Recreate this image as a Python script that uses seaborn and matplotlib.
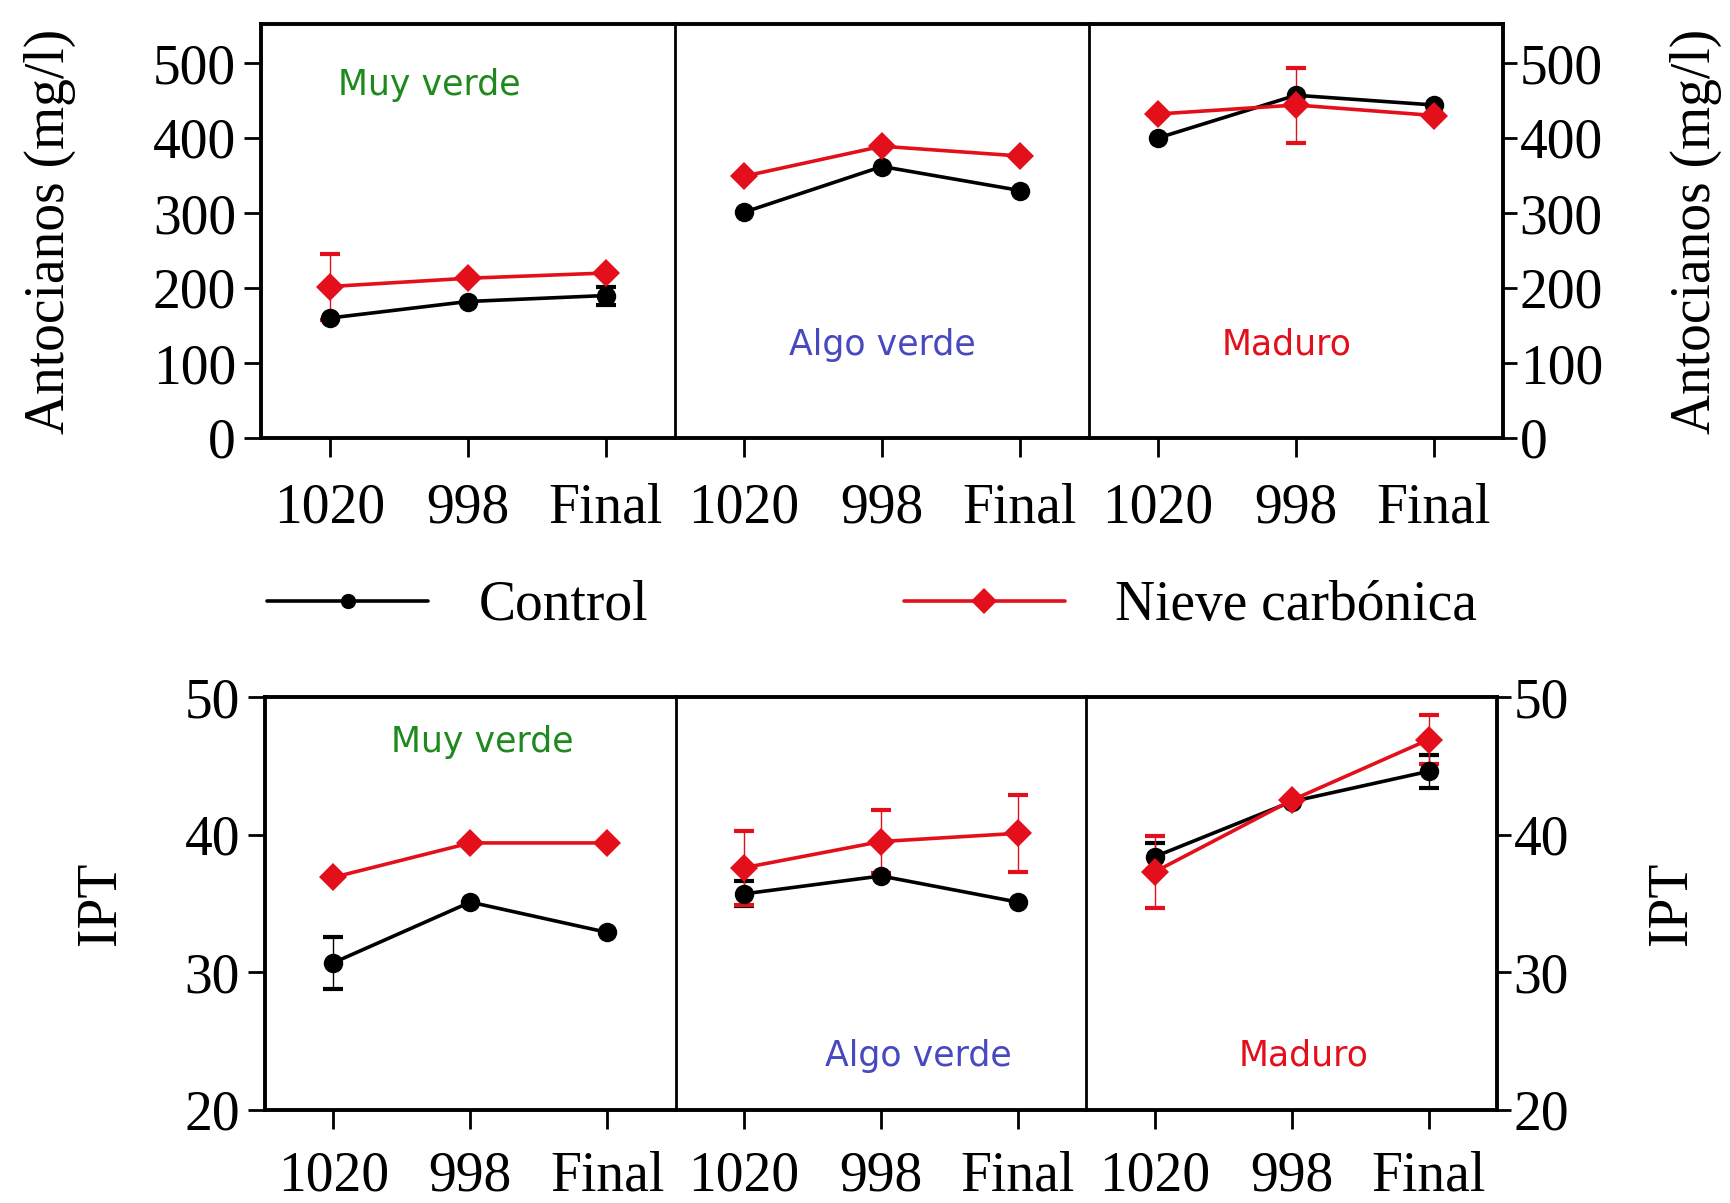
import numpy as np
import pandas as pd
import matplotlib
matplotlib.use("Agg")
import matplotlib.pyplot as plt
from matplotlib.lines import Line2D
import seaborn as sns

# ---------------- data ----------------
etapas = ["1020", "998", "Final"]
estados = ["Muy verde", "Algo verde", "Maduro"]
tratamientos = ["Control", "Nieve carbónica"]

antoc_control = [[160, 182, 190], [301, 362, 330], [400, 457, 444]]
antoc_nieve = [[202, 213, 220], [349, 389, 376], [432, 444, 430]]
antoc_control_err = [[0, 0, 12], [0, 0, 0], [0, 0, 0]]
antoc_nieve_err = [[44, 0, 0], [0, 0, 0], [0, 50, 0]]

ipt_control = [[30.7, 35.1, 32.9], [35.7, 37.0, 35.1], [38.4, 42.4, 44.6]]
ipt_nieve = [[36.9, 39.4, 39.4], [37.6, 39.5, 40.1], [37.3, 42.5, 46.9]]
ipt_control_err = [[1.9, 0, 0], [0.9, 0, 0], [1.0, 0, 1.2]]
ipt_nieve_err = [[0, 0, 0], [2.7, 2.3, 2.8], [2.6, 0, 1.8]]

antoc_ticks = [0, 100, 200, 300, 400, 500]
ipt_ticks = [20, 30, 40, 50]

# ---------------- style ----------------
RED = "#e3101c"
label_colors = {"Muy verde": "#1e8a1e", "Algo verde": "#4848c0", "Maduro": "#e3101c"}

sns.set_theme(style="white")
plt.rcParams["font.family"] = ["Liberation Serif", "DejaVu Serif"]
plt.rcParams["text.color"] = "black"
plt.rcParams["axes.labelcolor"] = "black"
plt.rcParams["xtick.color"] = "black"
plt.rcParams["ytick.color"] = "black"

W, H = 1730, 1203
fig = plt.figure(figsize=(W / 100, H / 100), dpi=100)

rows = [
    dict(left=261, right=1503, top=24, bottom=438, ylim=(0, 552), ticks=antoc_ticks,
         ylabel="Antocianos (mg/l)", c=antoc_control, n=antoc_nieve,
         ce=antoc_control_err, ne=antoc_nieve_err,
         lab_pos=[(0.406, 0.853), (0.502, 0.225), (0.477, 0.225)]),
    dict(left=265, right=1497, top=697, bottom=1110, ylim=(20, 50), ticks=ipt_ticks,
         ylabel="IPT", c=ipt_control, n=ipt_nieve,
         ce=ipt_control_err, ne=ipt_nieve_err,
         lab_pos=[(0.528, 0.89), (0.59, 0.131), (0.53, 0.131)]),
]

FS = 40
palette = {"Control": "black", "Nieve carbónica": RED}
markers = {"Control": "o", "Nieve carbónica": "D"}

for r, spec in enumerate(rows):
    pw = (spec["right"] - spec["left"]) / 3
    for i, estado in enumerate(estados):
        ax = fig.add_axes([(spec["left"] + i * pw) / W, 1 - spec["bottom"] / H,
                           pw / W, (spec["bottom"] - spec["top"]) / H])
        df = pd.DataFrame({
            "pos": [0, 1, 2] * 2,
            "valor": list(spec["c"][i]) + list(spec["n"][i]),
            "trat": [tratamientos[0]] * 3 + [tratamientos[1]] * 3,
        })
        sns.lineplot(data=df, x="pos", y="valor", hue="trat", style="trat",
                     palette=palette, markers=markers, dashes=False,
                     linewidth=2.6, markersize=14, markeredgewidth=0,
                     legend=False, ax=ax, zorder=3)
        for vals, errs, col in [(spec["c"][i], spec["ce"][i], "black"),
                                (spec["n"][i], spec["ne"][i], RED)]:
            idx = [k for k in range(3) if errs[k] > 0]
            if idx:
                ax.errorbar([k for k in idx], [vals[k] for k in idx],
                            yerr=[errs[k] for k in idx], fmt="none", ecolor=col,
                            elinewidth=1.0, capsize=7, capthick=3, zorder=2)
        ax.set_xlim(-0.5, 2.5)
        ax.set_ylim(*spec["ylim"])
        ax.set_xticks([0, 1, 2])
        ax.set_xticklabels(etapas, fontsize=FS)
        ax.set_xlabel("")
        ax.set_ylabel("")
        ax.tick_params(axis="x", direction="out", length=14, width=2,
                       pad=18 if r == 0 else 15, bottom=True, colors="black")
        for s in ax.spines.values():
            s.set_color("black")
            s.set_linewidth(2.8)
        if i == 0:
            ax.set_yticks(spec["ticks"])
            ax.set_yticklabels([str(t) for t in spec["ticks"]], fontsize=FS)
            ax.tick_params(axis="y", direction="out", length=12, width=2, pad=6,
                           left=True, right=False)
            ax.spines["right"].set_visible(False)
        elif i == 1:
            ax.set_yticks([])
            ax.spines["right"].set_visible(False)
            ax.spines["left"].set_linewidth(2.0)
        else:
            ax.set_yticks(spec["ticks"])
            ax.yaxis.tick_right()
            ax.set_yticklabels([str(t) for t in spec["ticks"]], fontsize=FS)
            ax.tick_params(axis="y", direction="out", length=10, width=2, pad=2,
                           left=False, right=True, labelleft=False, labelright=True)
            ax.spines["left"].set_linewidth(2.0)
        lx, ly = spec["lab_pos"][i]
        ax.text(lx, ly, estado, transform=ax.transAxes, ha="center", va="center",
                fontsize=25, color=label_colors[estado], family="DejaVu Sans")

    # y labels
    yc = 1 - (spec["top"] + spec["bottom"]) / 2 / H
    if r == 0:
        fig.text(50 / W, yc, spec["ylabel"], rotation=90, ha="center", va="center", fontsize=FS)
        fig.text(1696 / W, yc, spec["ylabel"], rotation=90, ha="center", va="center", fontsize=FS)
    else:
        fig.text(101 / W, yc, spec["ylabel"], rotation=90, ha="center", va="center", fontsize=FS)
        fig.text(1672 / W, yc, spec["ylabel"], rotation=90, ha="center", va="center", fontsize=FS)

handles = [
    Line2D([], [], color="black", marker="o", markersize=11, linewidth=2.6, markeredgewidth=0),
    Line2D([], [], color=RED, marker="D", markersize=13, linewidth=2.6, markeredgewidth=0),
]
fig.legend(handles, tratamientos, loc="center", bbox_to_anchor=(0.504, 1 - 606 / H),
           ncol=2, frameon=False, fontsize=FS, handlelength=2.9, handletextpad=0.9,
           columnspacing=4.6)

fig.savefig("out.png", dpi=100)
